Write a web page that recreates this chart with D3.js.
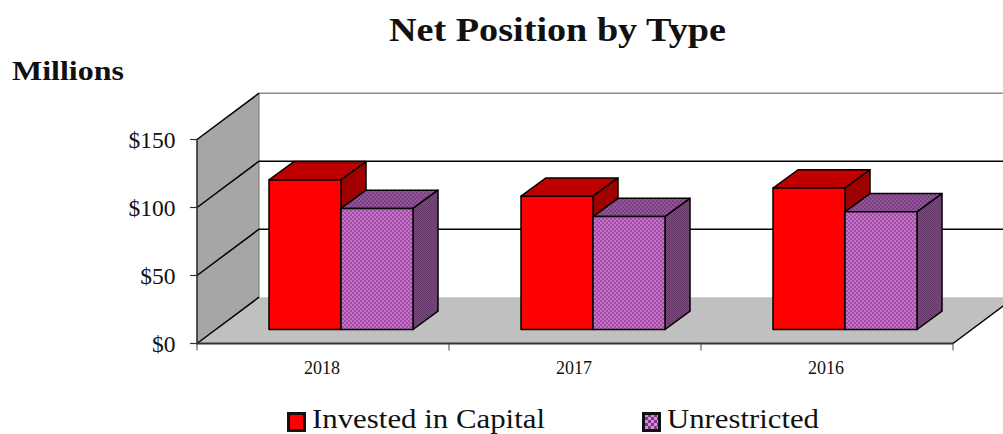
<!DOCTYPE html>
<html><head><meta charset="utf-8">
<script src="https://cdn.jsdelivr.net/npm/d3@7"></script>
<style>html,body{margin:0;padding:0;background:#fff}svg{display:block}text{font-family:"Liberation Serif",serif;fill:#111}</style>
</head><body><svg id="c" width="1003" height="434"></svg>
<script>
const categories=["2018","2017","2016"];
const seriesNames=["Invested in Capital","Unrestricted"];
const invested=[110,98,104];
const unrestricted=[89,83,86.5];
const yTicks=[0,50,100,150];
const tickLabels=["$0","$50","$100","$150"];

const svg=d3.select("#c");
const defs=svg.append("defs");
function checker(id,a,b,s){
  const p=defs.append("pattern").attr("id",id).attr("width",s*2).attr("height",s*2).attr("patternUnits","userSpaceOnUse");
  p.append("rect").attr("width",s*2).attr("height",s*2).attr("fill",a);
  p.append("rect").attr("width",s).attr("height",s).attr("fill",b);
  p.append("rect").attr("x",s).attr("y",s).attr("width",s).attr("height",s).attr("fill",b);
}
checker("pFront","#c76fcf","#a0509c",2);
checker("pSide","#7a4a80","#66386a",1);
checker("pTop","#93559a","#7a4080",2);
checker("pLegend","#d88ae0","#7a3a80",3);

const x=d3.scaleBand().domain(categories).range([197,953]);
const y=d3.scaleLinear().domain([0,150]).range([343.5,139.5]);
const wallDx=62,wallDy=-46.3;
const barBase=-14,barInset=72,barW=72,barDx=25,barDy=-18.3;
const pts=a=>a.map(p=>p.join(",")).join(" ");

// back wall
svg.append("line").attr("x1",x.range()[0]+wallDx).attr("x2",1003).attr("y1",y(150)+wallDy).attr("y2",y(150)+wallDy).attr("stroke","#8c8c8c").attr("stroke-width",1.5);
// left wall
svg.append("polygon").attr("points",pts([[197,y(0)],[197,y(150)],[197+wallDx,y(150)+wallDy],[197+wallDx,y(0)+wallDy]])).attr("fill","#a6a6a6");
// floor
svg.append("polygon").attr("points",pts([[197,y(0)],[953,y(0)],[953+wallDx,y(0)+wallDy],[197+wallDx,y(0)+wallDy]])).attr("fill","#c0c0c0");
svg.append("line").attr("x1",197+wallDx).attr("x2",197+wallDx).attr("y1",y(150)+wallDy).attr("y2",y(0)+wallDy).attr("stroke","#808080").attr("stroke-width",1.2);
// gridlines
yTicks.forEach(t=>{
  svg.append("line").attr("x1",197).attr("y1",y(t)).attr("x2",197+wallDx).attr("y2",y(t)+wallDy).attr("stroke","#000").attr("stroke-width",1.5);
  if(t===50||t===100) svg.append("line").attr("x1",197+wallDx).attr("x2",1003).attr("y1",y(t)+wallDy).attr("y2",y(t)+wallDy).attr("stroke","#000").attr("stroke-width",1.5);
});
// axes
svg.append("line").attr("x1",197).attr("x2",197).attr("y1",y(150)).attr("y2",y(0)+1).attr("stroke","#222").attr("stroke-width",1.5);
svg.append("line").attr("x1",197).attr("x2",953).attr("y1",y(0)).attr("y2",y(0)).attr("stroke","#333").attr("stroke-width",2);
svg.append("line").attr("x1",953).attr("y1",y(0)).attr("x2",953+wallDx).attr("y2",y(0)+wallDy).attr("stroke","#000").attr("stroke-width",1.5);
yTicks.forEach((t,i)=>{
  svg.append("line").attr("x1",190).attr("x2",197).attr("y1",y(t)).attr("y2",y(t)).attr("stroke","#333").attr("stroke-width",1.2);
  svg.append("text").attr("x",175.5).attr("y",y(t)+8).attr("text-anchor","end").attr("font-size",23.5).attr("fill","#222").text(tickLabels[i]);
});
d3.range(categories.length+1).forEach(i=>{
  const tx=197+i*x.step();
  svg.append("line").attr("x1",tx).attr("x2",tx).attr("y1",y(0)).attr("y2",y(0)+7).attr("stroke","#444").attr("stroke-width",1);
});
categories.forEach(c=>svg.append("text").attr("x",x(c)+x.bandwidth()/2-3+2).attr("y",373.5).attr("text-anchor","middle").attr("font-size",18).text(c));

// bars
function bar(left,top,bottom,front,topFill,side){
  const g=svg.append("g").attr("stroke","#000").attr("stroke-width",1.5).attr("stroke-linejoin","round");
  g.append("polygon").attr("points",pts([[left,top],[left+barDx,top+barDy],[left+barW+barDx,top+barDy],[left+barW,top]])).attr("fill",topFill);
  g.append("polygon").attr("points",pts([[left+barW,top],[left+barW+barDx,top+barDy],[left+barW+barDx,bottom+barDy],[left+barW,bottom]])).attr("fill",side);
  g.append("rect").attr("x",left).attr("y",top).attr("width",barW).attr("height",bottom-top).attr("fill",front);
}
categories.forEach((c,i)=>{
  const y0=y(0)+barBase, sc=v=>y(v)+barBase;
  const l=x(c)+barInset;
  bar(l,sc(invested[i]),y0,"#ff0000","#c00000","#a00000");
  bar(l+barW,sc(unrestricted[i]),y0,"url(#pFront)","url(#pTop)","url(#pSide)");
});

// titles
svg.append("text").attr("x",557.5).attr("y",41).attr("text-anchor","middle").attr("font-size",34).attr("font-weight","bold").attr("textLength",337).attr("lengthAdjust","spacingAndGlyphs").text("Net Position by Type");
svg.append("text").attr("x",12).attr("y",80).attr("font-size",28).attr("font-weight","bold").attr("textLength",112).attr("lengthAdjust","spacingAndGlyphs").text("Millions");

// legend
const legendX=[287,642],legendFill=["#ff0000","url(#pLegend)"],legendW=[233,152];
seriesNames.forEach((n,i)=>{
  svg.append("rect").attr("x",legendX[i]+1.5).attr("y",413.5).attr("width",16).attr("height",17).attr("fill",legendFill[i]).attr("stroke","#111").attr("stroke-width",3);
  svg.append("text").attr("x",legendX[i]+25).attr("y",427.5).attr("font-size",28).attr("textLength",legendW[i]).attr("lengthAdjust","spacingAndGlyphs").text(n);
});
</script></body></html>
